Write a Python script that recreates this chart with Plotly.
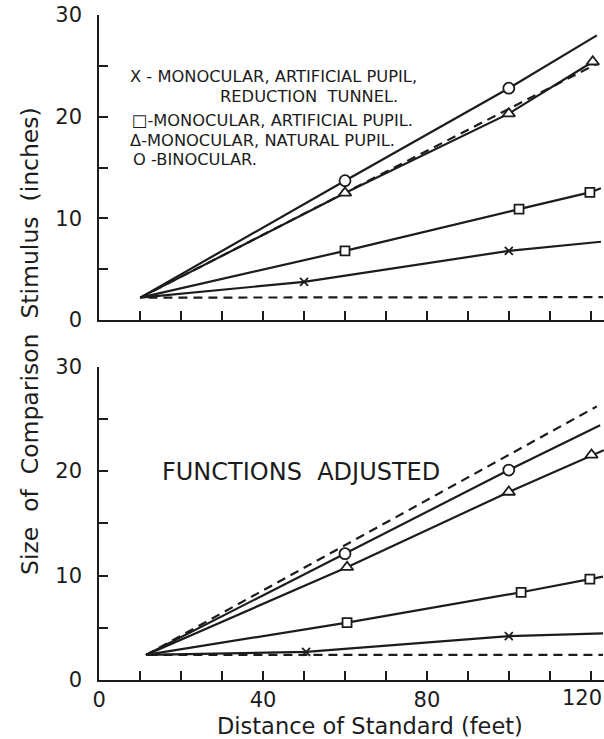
import plotly.graph_objects as go

# ---------------- data ----------------
# Top panel (observed functions)
top_bino_x = [10, 60, 100, 121.5]
top_bino_y = [2.2, 13.7, 22.8, 28.0]
top_bino_mx = [60, 100]
top_bino_my = [13.7, 22.8]

top_nat_x = [10, 60, 100, 120.5]
top_nat_y = [2.2, 12.5, 20.3, 25.4]
top_nat_mx = [60, 100, 120.5]
top_nat_my = [12.5, 20.3, 25.4]

top_art_x = [10, 60, 102.5, 119.8, 122.5]
top_art_y = [2.2, 6.8, 10.9, 12.55, 12.95]
top_art_mx = [60, 102.5, 119.8]
top_art_my = [6.8, 10.9, 12.55]

top_tun_x = [10, 50, 100, 122.5]
top_tun_y = [2.2, 3.75, 6.8, 7.7]
top_tun_mx = [50, 100]
top_tun_my = [3.75, 6.8]

top_const_x = [10, 121.5]
top_const_y = [2.2, 25.2]
top_angle_x = [12, 123]
top_angle_y = [2.2, 2.25]

# Bottom panel (functions adjusted)
bot_bino_x = [11.4, 60, 100, 122.3]
bot_bino_y = [2.4, 12.1, 20.1, 24.4]
bot_bino_mx = [60, 100]
bot_bino_my = [12.1, 20.1]

bot_nat_x = [11.4, 60.5, 100, 120.2, 123.2]
bot_nat_y = [2.4, 10.8, 18.0, 21.55, 22.0]
bot_nat_mx = [60.5, 100, 120.2]
bot_nat_my = [10.8, 18.0, 21.55]

bot_art_x = [11.4, 60.5, 103, 119.8, 123.0]
bot_art_y = [2.4, 5.5, 8.4, 9.65, 9.9]
bot_art_mx = [60.5, 103, 119.8]
bot_art_my = [5.5, 8.4, 9.65]

bot_tun_x = [11.4, 50.5, 100, 123.0]
bot_tun_y = [2.4, 2.7, 4.2, 4.47]
bot_tun_mx = [50.5, 100]
bot_tun_my = [2.7, 4.2]

bot_const_x = [11.4, 121.5]
bot_const_y = [2.4, 26.2]
bot_angle_x = [12, 123]
bot_angle_y = [2.4, 2.4]

y_tickvals = [0, 5, 10, 15, 20, 25, 30]
y_ticktext = ["0", "", "10", "", "20", "", "30"]
x_tickvals = [0, 10, 20, 30, 40, 50, 60, 70, 80, 90, 100, 110, 120]
# the last label ("120") sits at the right edge; it is drawn right-aligned below
x_ticktext = ["0", "", "", "", "40", "", "", "", "80", "", "", "", ""]
x_edge_label = "120"

legend_lines = [
    "X - MONOCULAR, ARTIFICIAL PUPIL,",
    "REDUCTION  TUNNEL.",
    "\u25a1-MONOCULAR, ARTIFICIAL PUPIL.",
    "\u0394-MONOCULAR, NATURAL PUPIL.",
    "O -BINOCULAR.",
]

# ---------------- styling ----------------
INK = "#1c1c1c"
FONT = "DejaVu Sans"
W, H = 604, 739

fig = go.Figure()


def add_series(x, y, mx, my, symbol, size, xa, ya):
    fig.add_trace(go.Scatter(x=x, y=y, mode="lines", xaxis=xa, yaxis=ya,
                             line=dict(color=INK, width=2.2), hoverinfo="skip"))
    fig.add_trace(go.Scatter(x=mx, y=my, mode="markers", xaxis=xa, yaxis=ya,
                             marker=dict(symbol=symbol, size=size, color="white",
                                         line=dict(color=INK, width=1.8))))


def add_dashed(x, y, xa, ya):
    fig.add_trace(go.Scatter(x=x, y=y, mode="lines", xaxis=xa, yaxis=ya,
                             line=dict(color=INK, width=2.2, dash="9px,6px"),
                             hoverinfo="skip"))


# top
add_dashed(top_const_x, top_const_y, "x", "y")
add_dashed(top_angle_x, top_angle_y, "x", "y")
add_series(top_bino_x, top_bino_y, top_bino_mx, top_bino_my, "circle", 11, "x", "y")
add_series(top_nat_x, top_nat_y, top_nat_mx, top_nat_my, "triangle-up", 11, "x", "y")
add_series(top_art_x, top_art_y, top_art_mx, top_art_my, "square", 9, "x", "y")
add_series(top_tun_x, top_tun_y, top_tun_mx, top_tun_my, "x-thin", 8, "x", "y")
# bottom
add_dashed(bot_const_x, bot_const_y, "x2", "y2")
add_dashed(bot_angle_x, bot_angle_y, "x2", "y2")
add_series(bot_bino_x, bot_bino_y, bot_bino_mx, bot_bino_my, "circle", 11, "x2", "y2")
add_series(bot_nat_x, bot_nat_y, bot_nat_mx, bot_nat_my, "triangle-up", 11, "x2", "y2")
add_series(bot_art_x, bot_art_y, bot_art_mx, bot_art_my, "square", 9, "x2", "y2")
add_series(bot_tun_x, bot_tun_y, bot_tun_mx, bot_tun_my, "x-thin", 8, "x2", "y2")

x_left = 99.3
x_dom = [x_left / W, 1.0]
x_range = [0, (W - x_left) / 4.095]


def px_y(py):
    return 1 - py / H


axis_common = dict(showline=True, linewidth=2, linecolor=INK, showgrid=False,
                   zeroline=False, ticks="inside", ticklen=9, tickwidth=2,
                   tickcolor=INK, tickfont=dict(family=FONT, size=21, color=INK),
                   fixedrange=True, automargin=False)

fig.update_layout(
    width=W, height=H, autosize=False,
    margin=dict(l=0, r=0, t=0, b=0, pad=0),
    paper_bgcolor="white", plot_bgcolor="white",
    showlegend=False,
    xaxis=dict(domain=x_dom, range=x_range, anchor="y", tickvals=x_tickvals,
               showticklabels=False, **axis_common),
    yaxis=dict(domain=[px_y(320), px_y(15)], range=[0, 30], anchor="x",
               tickvals=y_tickvals, ticktext=y_ticktext, ticklabelstandoff=11,
               **axis_common),
    xaxis2=dict(domain=x_dom, range=x_range, anchor="y2", tickvals=x_tickvals,
                ticktext=x_ticktext, ticklabelstandoff=0, **axis_common),
    yaxis2=dict(domain=[px_y(680), px_y(366.7)], range=[0, 30], anchor="x2",
                tickvals=y_tickvals, ticktext=y_ticktext, ticklabelstandoff=11,
                **axis_common),
)

ann = []
# right-edge tick label, kept inside the page
ann.append(dict(text=x_edge_label, x=1.0, y=px_y(697.5), xref="paper", yref="paper",
                showarrow=False, xanchor="right", yanchor="middle",
                font=dict(family=FONT, size=21, color=INK)))
# axis titles
ann.append(dict(text="Size  of  Comparison  Stimulus  (inches)", x=30 / W, y=px_y(341),
                xref="paper", yref="paper", textangle=-90, showarrow=False,
                xanchor="center", yanchor="middle",
                font=dict(family=FONT, size=23.5, color=INK)))
ann.append(dict(text="Distance of Standard (feet)", x=369.5 / W, y=px_y(725.5),
                xref="paper", yref="paper", showarrow=False,
                xanchor="center", yanchor="middle",
                font=dict(family=FONT, size=22.5, color=INK)))
ann.append(dict(text="FUNCTIONS  ADJUSTED", x=160 / W, y=px_y(471.7),
                xref="paper", yref="paper", showarrow=False,
                xanchor="left", yanchor="middle",
                font=dict(family=FONT, size=24, color=INK)))
# legend text block
leg_pos = [(128, 76.7, "left"), (309, 96.7, "center"), (130, 120, "left"),
           (128, 140, "left"), (131, 160, "left")]
for txt, (lx, ly, anc) in zip(legend_lines, leg_pos):
    ann.append(dict(text=txt, x=lx / W, y=px_y(ly), xref="paper", yref="paper",
                    showarrow=False, xanchor=anc, yanchor="middle",
                    font=dict(family=FONT, size=16.3, color=INK)))
fig.update_layout(annotations=ann)

fig.write_html("out.html",
               config={"displayModeBar": False},
               post_script="document.body.style.margin='0px';"
                           "document.body.style.overflow='hidden';")
